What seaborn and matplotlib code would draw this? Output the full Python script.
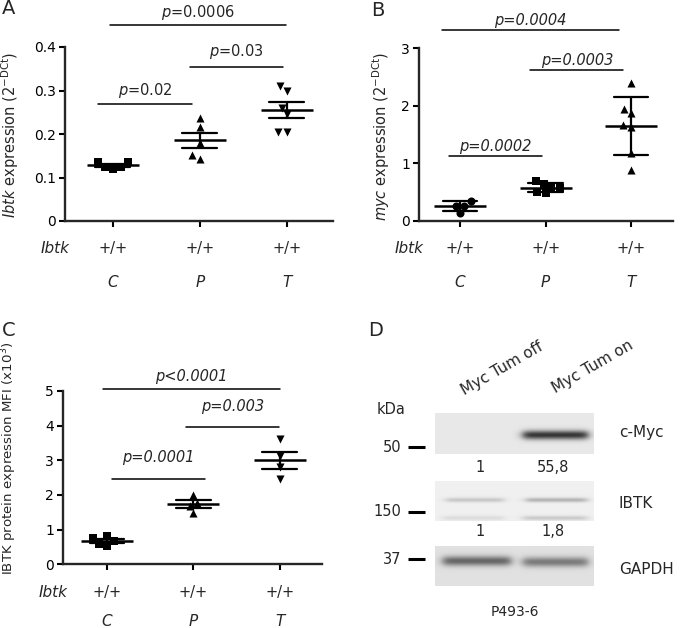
import numpy as np
import pandas as pd
import matplotlib
matplotlib.use("Agg")
import matplotlib.pyplot as plt
import seaborn as sns

# ---------------- data ----------------
groups = ["C", "P", "T"]
genotype = ["+/+", "+/+", "+/+"]
row_label = "Ibtk"

# Panel A: Ibtk expression (2^-DCt), mean +/- SEM
a_C = [0.135, 0.120, 0.125, 0.123, 0.135]
a_P = [0.236, 0.217, 0.180, 0.142, 0.151]
a_T = [0.310, 0.300, 0.260, 0.245, 0.205, 0.205]
a_yticks = [0, 0.1, 0.2, 0.3, 0.4]
a_yticklabels = ["0", "0.1", "0.2", "0.3", "0.4"]

# Panel B: myc expression (2^-DCt), mean +/- SD
b_C = [0.35, 0.26, 0.26, 0.14]
b_P = [0.69, 0.64, 0.58, 0.58, 0.50, 0.48]
b_T = [2.39, 1.94, 1.87, 1.66, 1.63, 1.18, 0.88]
b_yticks = [0, 1, 2, 3]

# Panel C: IBTK protein expression MFI (x10^3), mean +/- SEM
c_C = [0.82, 0.75, 0.68, 0.58, 0.54]
c_P = [2.00, 1.78, 1.68, 1.47]
c_T = [3.62, 3.13, 2.82, 2.45]
c_yticks = [0, 1, 2, 3, 4, 5]

# significance annotations: (x_from, x_to, y_line, y_text, text)
a_sig = [(-0.17, 0.91, 0.269, 0.301, r"$p$=0.02"),
         (0.885, 1.95, 0.354, 0.389, r"$p$=0.03"),
         (-0.03, 1.99, 0.450, 0.480, r"$p$=0.0006")]
b_sig = [(-0.13, 0.96, 1.127, 1.30, "p=0.0002"),
         (0.82, 1.91, 2.62, 2.79, "p=0.0003"),
         (-0.21, 1.86, 3.31, 3.48, "p=0.0004")]
c_sig = [(0.06, 1.13, 2.46, 3.07, "p=0.0001"),
         (0.91, 1.99, 3.95, 4.54, "p=0.003"),
         (-0.05, 2.00, 5.06, 5.41, "p<0.0001")]

# Panel D: western blot
lanes = ["Myc Tum off", "Myc Tum on"]
proteins = ["c-Myc", "IBTK", "GAPDH"]
kda_marks = ["50", "150", "37"]
cmyc_quant = ["1", "55,8"]
ibtk_quant = ["1", "1,8"]
cmyc_band = [0.00, 0.70]
ibtk_band = [0.16, 0.24]
ibtk_lower = [0.08, 0.15]
gapdh_band = [0.48, 0.40]
cell_line = "P493-6"

# ---------------- style ----------------
sns.set_theme(style="ticks")
plt.rcParams["font.family"] = ["DejaVu Sans"]
plt.rcParams["mathtext.fontset"] = "dejavusans"

W, H = 685, 628
fig = plt.figure(figsize=(W / 100, H / 100), dpi=100)


def fx(x):
    return x / W


def fy(y):
    return 1 - y / H


def ftext(x, y, s, **kw):
    fig.text(fx(x), fy(y), s, **kw)


# overlay axes in pixel coordinates (for panel D)
axd = fig.add_axes([0, 0, 1, 1])
axd.set_xlim(0, W)
axd.set_ylim(H, 0)
axd.axis("off")
axd.patch.set_alpha(0)


def scatter_panel(rect, values, markers, errorbar, xlim, yticks, yticklabels,
                  ylim, sigs, sig_italic, row_offsets=(-20, -44)):
    ax = fig.add_axes(rect)
    ax.patch.set_alpha(0)
    df = pd.DataFrame({"group": np.repeat(groups, [len(v) for v in values]),
                       "value": np.concatenate(values)})
    for g, m in zip(groups, markers):
        sub = df[df["group"] == g]
        sns.swarmplot(data=sub, x="group", y="value", order=groups, ax=ax,
                      marker=m, color="black", size=5.8, linewidth=0)
    sns.pointplot(data=df, x="group", y="value", order=groups, ax=ax,
                  errorbar=errorbar, capsize=0.4, color="black",
                  marker="_", markersize=38, markeredgewidth=1.8,
                  linestyle="none", linewidth=1.6,
                  err_kws={"linewidth": 1.6})
    ax.set_xlim(*xlim)
    ax.set_ylim(*ylim)
    ax.set_yticks(yticks)
    ax.set_yticklabels(yticklabels)
    ax.set_xticks(range(len(groups)))
    ax.set_xticklabels([])
    ax.set_xlabel("")
    ax.set_ylabel("")
    sns.despine(ax=ax)
    for s in ["left", "bottom"]:
        ax.spines[s].set_linewidth(1.7)
    ax.tick_params(axis="both", direction="out", length=4.5, width=1.5,
                   labelsize=10, pad=2, colors="black")
    for x1, x2, yl, yt, t in sigs:
        ax.plot([x1, x2], [yl, yl], color="black", lw=1.1, clip_on=False)
        ax.text((x1 + x2) / 2, yt, t, ha="center", va="center",
                fontsize=10.5, style="italic" if sig_italic else "normal",
                clip_on=False)
    for i, (gt, g) in enumerate(zip(genotype, groups)):
        ax.annotate(gt, xy=(i, 0), xycoords=("data", "axes fraction"),
                    xytext=(0, row_offsets[0]), textcoords="offset points",
                    ha="center", va="center", fontsize=10.5)
        ax.annotate(g, xy=(i, 0), xycoords=("data", "axes fraction"),
                    xytext=(0, row_offsets[1]), textcoords="offset points",
                    ha="center", va="center", fontsize=11, style="italic")
    ax.annotate(row_label, xy=(0, 0), xycoords="axes fraction",
                xytext=(3, row_offsets[0]), textcoords="offset points",
                ha="right", va="center", fontsize=11, style="italic")
    return ax


# Panel A
scatter_panel([fx(65), fy(221), fx(333 - 65), (221 - 47) / H],
              [a_C, a_P, a_T], ["s", "^", "v"], "se", (-0.55, 2.53),
              a_yticks, a_yticklabels, (0, 0.4), a_sig, False)
ftext(10, 135, r"$\mathit{Ibtk}$ expression (2$^{\mathregular{-DCt}}$)",
      rotation=90, ha="center", va="center", fontsize=10.5)

# Panel B
scatter_panel([fx(419), fy(221), fx(673 - 419), (221 - 48) / H],
              [b_C, b_P, b_T], ["o", "s", "^"], "sd", (-0.48, 2.49),
              b_yticks, [str(t) for t in b_yticks], (0, 3), b_sig, True)
ftext(381, 136, r"$\mathit{myc}$ expression (2$^{\mathregular{-DCt}}$)",
      rotation=90, ha="center", va="center", fontsize=10.5)

# Panel C
scatter_panel([fx(63), fy(564.3), fx(322 - 63), (564.3 - 391) / H],
              [c_C, c_P, c_T], ["s", "^", "v"], "se", (-0.51, 2.49),
              c_yticks, [str(t) for t in c_yticks], (0, 5), c_sig, True,
              row_offsets=(-20, -41.5))
ftext(9, 458, r"IBTK protein expression MFI (x10$^{3}$)",
      rotation=90, ha="center", va="center", fontsize=9.6)

# panel letters
for s, x, y in [("A", 2, 9), ("B", 371, 10), ("C", 2, 330), ("D", 368, 330)]:
    ftext(x, y, s, ha="left", va="center", fontsize=14)


# ---------------- Panel D: blot ----------------
def blot_image(width, height, bg, bands):
    xs = np.arange(width)[None, :] + 0.5
    ys = np.arange(height)[:, None] + 0.5
    img = np.full((height, width), bg, dtype=float)
    for x0, x1, yc, sig, dark in bands:
        xm = 1 / (1 + np.exp(-(xs - x0) / 2.5)) * 1 / (1 + np.exp((xs - x1) / 2.5))
        ym = np.exp(-0.5 * ((ys - yc) / sig) ** 2)
        img -= dark * xm * ym
    return np.clip(img, 0, 1)


bx0, bx1 = 435, 594
bw = bx1 - bx0
lane_x = [(8, 70), (88, 153)]
blots = [
    (413, 454, 0.91, [(lane_x[i][0], lane_x[i][1], 22, 3.2, cmyc_band[i]) for i in range(2)]),
    (481, 521, 0.94, [(lane_x[i][0] + 3, lane_x[i][1] - 1, 19, 1.6, ibtk_band[i]) for i in range(2)]
     + [(lane_x[i][0], lane_x[i][1] - 1, 37, 1.6, ibtk_lower[i]) for i in range(2)]),
    (546, 586, 0.88, [(lane_x[i][0], lane_x[i][1] + (6 if i == 0 else 0), 15 + i, 3.5, gapdh_band[i])
                      for i in range(2)]),
]
for y0, y1, bg, bands in blots:
    img = blot_image(bw, y1 - y0, bg, bands)
    axd.imshow(img, cmap="gray", vmin=0, vmax=1, extent=(bx0, bx1, y1, y0),
               interpolation="bilinear", aspect="auto")
axd.set_xlim(0, W)
axd.set_ylim(H, 0)

# lane labels
for lab, (x, y) in zip(lanes, [(502, 369), (593, 367)]):
    axd.text(x, y, lab, rotation=30, rotation_mode="anchor", ha="center",
             va="center", fontsize=11)
axd.text(391, 410, "kDa", ha="center", va="center", fontsize=10.5)
for k, y in zip(kda_marks, [447, 512, 559]):
    axd.text(401, y, k, ha="right", va="center", fontsize=10.5)
    axd.plot([408, 425], [y, y], color="black", lw=2.2, solid_capstyle="butt")
for p, y in zip(proteins, [432, 503, 569]):
    axd.text(619, y, p, ha="left", va="center", fontsize=11)
for q, x in zip(cmyc_quant, [480, 553]):
    axd.text(x, 467, q, ha="center", va="center", fontsize=10.5)
for q, x in zip(ibtk_quant, [480, 553]):
    axd.text(x, 532, q, ha="center", va="center", fontsize=10.5)
axd.text(515, 612, cell_line, ha="center", va="center", fontsize=10)

fig.savefig("out.png", dpi=100)
